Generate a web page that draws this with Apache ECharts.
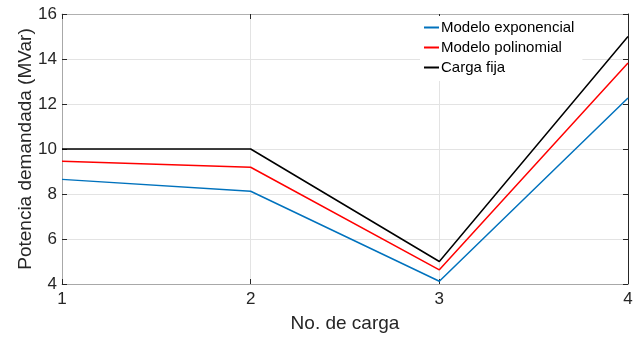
<!DOCTYPE html>
<html>
<head>
<meta charset="utf-8">
<script src="https://cdn.jsdelivr.net/npm/echarts@6/dist/echarts.min.js"></script>
<style>
html,body{margin:0;padding:0;background:#fff;}
#chart{width:643px;height:338px;}
</style>
</head>
<body>
<div id="chart"></div>
<script>
const cargas = [1, 2, 3, 4];
const modeloExponencial = [8.65, 8.12, 4.12, 12.27];
const modeloPolinomial = [9.46, 9.19, 4.63, 13.82];
const cargaFija = [10, 10, 5, 15];
const seriesNames = ['Modelo exponencial', 'Modelo polinomial', 'Carga fija'];
const xTitle = 'No. de carga';
const yTitle = 'Potencia demandada (MVar)';

const font = 'Liberation Sans, Arial, Helvetica, sans-serif';
const pair = (vals) => cargas.map((c, i) => [c, vals[i]]);

const chart = echarts.init(document.getElementById('chart'));
chart.setOption({
  animation: false,
  backgroundColor: '#ffffff',
  grid: { left: 62, right: 15, top: 14, bottom: 54 },
  legend: {
    orient: 'vertical',
    left: 420, top: 16,
    padding: [4, 8, 6, 4],
    backgroundColor: '#ffffff',
    itemGap: 5,
    itemWidth: 15, itemHeight: 2,
    icon: 'rect',
    textStyle: { fontFamily: font, fontSize: 15, color: '#000', lineHeight: 15, padding: [0,0,0,-3] },
    data: seriesNames
  },
  xAxis: [{
    type: 'value', position: 'bottom', min: 1, max: 4, interval: 1,
    name: xTitle, nameLocation: 'middle', nameGap: 30, nameMoveOverlap: false,
    nameTextStyle: { fontFamily: font, fontSize: 19, color: '#262626' },
    axisLine: { show: true, lineStyle: { color: '#a8a8a8', width: 1 } },
    axisTick: { show: true, inside: true, length: 5, lineStyle: { color: '#262626' } },
    axisLabel: { fontFamily: font, fontSize: 17, color: '#262626', margin: 7 },
    splitLine: { show: true, lineStyle: { color: '#e3e3e3', width: 1 } }
  }, {
    type: 'value', position: 'top', min: 1, max: 4, interval: 1,
    axisLine: { show: true, lineStyle: { color: '#b0b0b0', width: 1 } },
    axisTick: { show: true, inside: true, length: 5, lineStyle: { color: '#262626' } },
    axisLabel: { show: false },
    splitLine: { show: false }
  }],
  yAxis: [{
    type: 'value', position: 'left', min: 4, max: 16, interval: 2,
    name: yTitle, nameLocation: 'middle', nameGap: 27, nameMoveOverlap: false,
    nameTextStyle: { fontFamily: font, fontSize: 19, color: '#262626' },
    axisLine: { show: true, lineStyle: { color: '#a8a8a8', width: 1 } },
    axisTick: { show: true, inside: true, length: 5, lineStyle: { color: '#262626' } },
    axisLabel: { fontFamily: font, fontSize: 17, color: '#262626', margin: 5 },
    splitLine: { show: true, lineStyle: { color: '#e3e3e3', width: 1 } }
  }, {
    type: 'value', position: 'right', min: 4, max: 16, interval: 2,
    axisLine: { show: true, lineStyle: { color: '#262626', width: 1 } },
    axisTick: { show: true, inside: true, length: 5, lineStyle: { color: '#262626' } },
    axisLabel: { show: false },
    splitLine: { show: false }
  }],
  series: [
    { name: seriesNames[0], type: 'line', data: pair(modeloExponencial), showSymbol: false, symbol: 'none',
      color: '#0072BD', lineStyle: { color: '#0072BD', width: 1.5 } },
    { name: seriesNames[1], type: 'line', data: pair(modeloPolinomial), showSymbol: false, symbol: 'none',
      color: '#FF0000', lineStyle: { color: '#FF0000', width: 1.5 } },
    { name: seriesNames[2], type: 'line', data: pair(cargaFija), showSymbol: false, symbol: 'none',
      color: '#000000', lineStyle: { color: '#000000', width: 1.5 } }
  ]
});
</script>
</body>
</html>
